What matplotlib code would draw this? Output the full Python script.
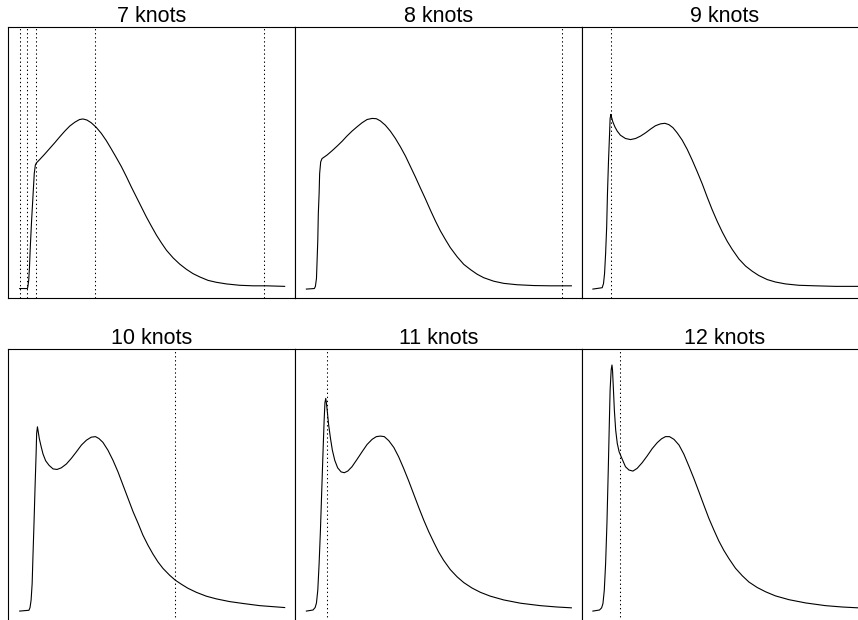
import matplotlib.pyplot as plt

# curves; x runs 0..1 over each fit, y is the fitted density
x7 = [0, 0.029, 0.031, 0.034, 0.037, 0.040, 0.045, 0.050, 0.055, 0.059, 0.063, 0.076,
      0.094, 0.113, 0.132, 0.151, 0.170, 0.189, 0.208, 0.226, 0.239, 0.254, 0.270,
      0.289, 0.308, 0.327, 0.346, 0.365, 0.384, 0.403, 0.421, 0.440, 0.459, 0.478,
      0.497, 0.516, 0.535, 0.554, 0.579, 0.604, 0.629, 0.654, 0.679, 0.711, 0.742,
      0.780, 0.830, 0.881, 0.931, 1.0]
y7 = [0.036, 0.036, 0.044, 0.066, 0.116, 0.189, 0.288, 0.374, 0.460, 0.491, 0.499, 0.512,
      0.531, 0.552, 0.573, 0.595, 0.616, 0.635, 0.649, 0.659, 0.661, 0.657, 0.647,
      0.630, 0.608, 0.581, 0.550, 0.518, 0.485, 0.448, 0.411, 0.374, 0.337, 0.300,
      0.266, 0.233, 0.204, 0.177, 0.149, 0.126, 0.107, 0.091, 0.079, 0.066, 0.059,
      0.053, 0.048, 0.046, 0.046, 0.044]
k7 = [0.0025, 0.029, 0.063, 0.283, 0.922]

x8 = [0, 0.030, 0.034, 0.038, 0.040, 0.043, 0.045, 0.048, 0.050, 0.054, 0.059, 0.078,
      0.097, 0.116, 0.135, 0.153, 0.172, 0.191, 0.210, 0.229, 0.248, 0.264, 0.279,
      0.298, 0.317, 0.336, 0.355, 0.374, 0.392, 0.411, 0.430, 0.449, 0.468, 0.487,
      0.506, 0.525, 0.543, 0.569, 0.594, 0.619, 0.644, 0.669, 0.707, 0.745, 0.795,
      0.858, 0.921, 1.0]
y8 = [0.034, 0.036, 0.044, 0.073, 0.128, 0.214, 0.312, 0.386, 0.460, 0.503, 0.515, 0.528,
      0.544, 0.561, 0.579, 0.598, 0.616, 0.632, 0.647, 0.659, 0.663, 0.662, 0.654,
      0.638, 0.616, 0.589, 0.558, 0.524, 0.487, 0.448, 0.407, 0.367, 0.325, 0.285,
      0.248, 0.216, 0.187, 0.153, 0.125, 0.106, 0.089, 0.076, 0.063, 0.055, 0.050,
      0.047, 0.046, 0.046]
k8 = [0.965]

x9 = [0, 0.035, 0.040, 0.044, 0.048, 0.052, 0.055, 0.059, 0.063, 0.065, 0.068, 0.070,
      0.075, 0.083, 0.092, 0.104, 0.123, 0.142, 0.161, 0.180, 0.199, 0.218, 0.236,
      0.255, 0.272, 0.287, 0.302, 0.318, 0.337, 0.356, 0.375, 0.394, 0.413, 0.431,
      0.450, 0.469, 0.488, 0.507, 0.526, 0.551, 0.576, 0.601, 0.626, 0.658, 0.689,
      0.727, 0.777, 0.840, 0.916, 1.0]
y9 = [0.034, 0.039, 0.054, 0.091, 0.165, 0.263, 0.386, 0.509, 0.608, 0.663, 0.678, 0.669,
      0.651, 0.632, 0.616, 0.601, 0.589, 0.585, 0.589, 0.598, 0.610, 0.624, 0.636,
      0.643, 0.645, 0.640, 0.629, 0.610, 0.583, 0.549, 0.509, 0.466, 0.421, 0.374,
      0.327, 0.284, 0.245, 0.210, 0.180, 0.145, 0.119, 0.100, 0.084, 0.069, 0.060,
      0.053, 0.048, 0.046, 0.044, 0.044]
k9 = [0.068]

x10 = [0, 0.035, 0.039, 0.043, 0.047, 0.050, 0.054, 0.058, 0.062, 0.064, 0.067, 0.069,
       0.074, 0.081, 0.088, 0.098, 0.111, 0.126, 0.141, 0.157, 0.176, 0.195, 0.214,
       0.233, 0.252, 0.270, 0.286, 0.299, 0.314, 0.333, 0.352, 0.371, 0.390, 0.409,
       0.428, 0.447, 0.465, 0.484, 0.503, 0.522, 0.541, 0.566, 0.587, 0.610, 0.635,
       0.667, 0.704, 0.742, 0.792, 0.843, 0.906, 1.0]
y10 = [0.034, 0.037, 0.047, 0.074, 0.135, 0.234, 0.357, 0.492, 0.615, 0.689, 0.713, 0.701,
       0.670, 0.640, 0.613, 0.588, 0.571, 0.558, 0.556, 0.562, 0.576, 0.597, 0.621,
       0.646, 0.664, 0.675, 0.677, 0.670, 0.656, 0.627, 0.590, 0.547, 0.498, 0.449,
       0.400, 0.357, 0.314, 0.277, 0.244, 0.215, 0.191, 0.166, 0.148, 0.133, 0.118,
       0.103, 0.089, 0.079, 0.069, 0.062, 0.054, 0.047]
k10 = [0.587]

x11 = [0, 0.025, 0.033, 0.038, 0.043, 0.048, 0.053, 0.058, 0.063, 0.067, 0.070, 0.073,
       0.075, 0.079, 0.084, 0.091, 0.098, 0.107, 0.118, 0.131, 0.143, 0.156, 0.172,
       0.191, 0.210, 0.229, 0.248, 0.264, 0.279, 0.294, 0.311, 0.330, 0.348, 0.367,
       0.386, 0.405, 0.424, 0.443, 0.462, 0.481, 0.499, 0.518, 0.543, 0.569, 0.594,
       0.625, 0.657, 0.694, 0.745, 0.808, 0.883, 0.946, 1.0]
y11 = [0.034, 0.038, 0.047, 0.064, 0.111, 0.209, 0.332, 0.480, 0.627, 0.738, 0.802, 0.818,
       0.806, 0.769, 0.720, 0.670, 0.627, 0.590, 0.562, 0.547, 0.544, 0.550, 0.566,
       0.593, 0.621, 0.648, 0.667, 0.677, 0.679, 0.677, 0.662, 0.637, 0.603, 0.560,
       0.514, 0.465, 0.416, 0.369, 0.326, 0.287, 0.252, 0.221, 0.187, 0.160, 0.139,
       0.119, 0.103, 0.089, 0.075, 0.063, 0.054, 0.049, 0.046]
k11 = [0.078]

x12 = [0, 0.025, 0.033, 0.038, 0.043, 0.048, 0.053, 0.058, 0.062, 0.065, 0.069, 0.072,
       0.074, 0.077, 0.081, 0.086, 0.092, 0.099, 0.111, 0.123, 0.136, 0.151, 0.167,
       0.186, 0.205, 0.224, 0.243, 0.259, 0.274, 0.289, 0.306, 0.325, 0.343, 0.362,
       0.381, 0.400, 0.419, 0.438, 0.457, 0.475, 0.494, 0.513, 0.538, 0.564, 0.589,
       0.620, 0.652, 0.689, 0.740, 0.803, 0.878, 0.941, 1.0]
y12 = [0.034, 0.038, 0.046, 0.062, 0.111, 0.209, 0.357, 0.554, 0.726, 0.849, 0.923, 0.941,
       0.923, 0.861, 0.775, 0.701, 0.652, 0.621, 0.593, 0.566, 0.554, 0.550, 0.560,
       0.581, 0.606, 0.633, 0.655, 0.669, 0.677, 0.677, 0.667, 0.646, 0.613, 0.569,
       0.523, 0.474, 0.424, 0.375, 0.332, 0.293, 0.258, 0.228, 0.192, 0.164, 0.141,
       0.121, 0.105, 0.090, 0.076, 0.064, 0.054, 0.049, 0.046]
k12 = [0.102]

titles = ['7 knots', '8 knots', '9 knots', '10 knots', '11 knots', '12 knots']
curves = [(x7, y7, k7), (x8, y8, k8), (x9, y9, k9),
          (x10, y10, k10), (x11, y11, k11), (x12, y12, k12)]

plt.rcParams['font.family'] = ['Liberation Sans', 'DejaVu Sans']

W, H = 858, 620
fig = plt.figure(figsize=(W / 100, H / 100), dpi=100)

# panels sit edge to edge; the right column and the bottom edge run past the canvas
lefts = [8.3, 295.0, 581.5]
tops = [27.0, 349.0]
pw, ph = 286.7, 271.3
extra = 2.0  # bottom row runs a little past the canvas so its lower edge is cut off

for i, (xs, ys, ks) in enumerate(curves):
    r, c = divmod(i, 3)
    h = ph + (extra if r == 1 else 0)
    ax = fig.add_axes([lefts[c] / W, 1 - (tops[r] + h) / H, pw / W, h / H])
    ax.plot(xs, ys, color='black', lw=0.8, solid_joinstyle='round')
    for k in ks:
        ax.axvline(k, color='black', lw=0.75, linestyle=(0, (1.3, 2.6)))
    ax.set_xlim(-0.043, 1.039)
    ax.set_ylim(-(h - ph) / ph, 1)
    ax.set_xticks([])
    ax.set_yticks([])
    for s in ax.spines.values():
        s.set_linewidth(0.8)
    ax.set_title(titles[i], fontsize=15.5, pad=3)

fig.savefig('out.png', dpi=100)
